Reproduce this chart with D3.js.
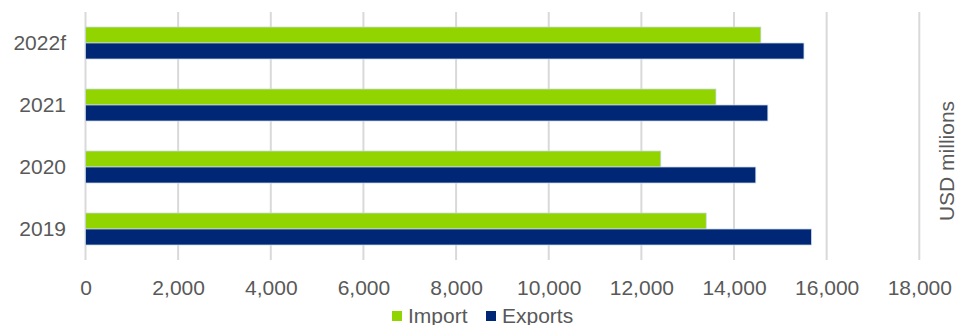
<!DOCTYPE html>
<html>
<head>
<meta charset="utf-8">
<script src="https://cdn.jsdelivr.net/npm/d3@7"></script>
<style>
  html, body { margin: 0; padding: 0; background: #fff; }
  svg { display: block; font-family: "Liberation Sans", Arial, sans-serif; }
</style>
</head>
<body>
<svg id="chart" width="955" height="325"></svg>
<script>
// Annual trade, USD millions
const years = ["2022f", "2021", "2020", "2019"];
const seriesNames = ["Import", "Exports"];
const importValues = [14580, 13610, 12420, 13400];
const exportValues = [15510, 14730, 14470, 15670];
const xTicks = [0, 2000, 4000, 6000, 8000, 10000, 12000, 14000, 16000, 18000];
const colors = ["#92d400", "#002776"];

const rows = years.map((y, i) => ({ year: y, values: [importValues[i], exportValues[i]] }));

const svg = d3.select("#chart");
const margin = { left: 85.5, right: 35.7, top: 12, bottom: 65 };
const W = 955, H = 325;

const x = d3.scaleLinear().domain([0, 18000]).range([margin.left, W - margin.right]);
const y = d3.scaleBand().domain(years).range([margin.top, H - margin.bottom]).paddingInner(30 / 62).paddingOuter(15 / 62);
const ySub = d3.scaleBand().domain(seriesNames).range([0, y.bandwidth()]);

// vertical gridlines
svg.append("g")
  .selectAll("line")
  .data(xTicks)
  .join("line")
  .attr("x1", d => x(d)).attr("x2", d => x(d))
  .attr("y1", margin.top).attr("y2", H - margin.bottom)
  .attr("stroke", "#d9d9d9")
  .attr("stroke-width", 2);

// bars
const groups = svg.append("g")
  .selectAll("g")
  .data(rows)
  .join("g")
  .attr("transform", d => `translate(0,${y(d.year)})`);

groups.selectAll("rect")
  .data(d => d.values.map((v, i) => ({ name: seriesNames[i], value: v, i })))
  .join("rect")
  .attr("x", x(0))
  .attr("y", d => ySub(d.name))
  .attr("width", d => x(d.value) - x(0))
  .attr("height", ySub.bandwidth())
  .attr("fill", d => colors[d.i])
  .attr("stroke", "#c9d6ea")
  .attr("stroke-width", 0.75);

// x axis labels
const xAxis = d3.axisBottom(x)
  .tickValues(xTicks)
  .tickFormat(d3.format(","))
  .tickSize(0)
  .tickPadding(0);
const gx = svg.append("g")
  .attr("transform", `translate(0,${H - margin.bottom + 35})`)
  .call(xAxis);
gx.select(".domain").remove();
gx.selectAll("text")
  .attr("dy", 0)
  .attr("fill", "#595959")
  .style("font-size", "21px")
  .style("font-family", "Liberation Sans, Arial, sans-serif");

// y axis labels
const yAxis = d3.axisLeft(y).tickSize(0).tickPadding(0);
const gy = svg.append("g")
  .attr("transform", `translate(66,0)`)
  .call(yAxis);
gy.select(".domain").remove();
gy.selectAll("text")
  .attr("fill", "#595959")
  .style("font-size", "21px")
  .style("font-family", "Liberation Sans, Arial, sans-serif");

// unit title on the right
svg.append("text")
  .attr("transform", `translate(954,161) rotate(-90)`)
  .attr("text-anchor", "middle")
  .attr("fill", "#595959")
  .style("font-size", "21px")
  .text("USD millions");

// legend
const legendItems = [
  { name: seriesNames[0], color: colors[0], x: 392 },
  { name: seriesNames[1], color: colors[1], x: 486 }
];
const lg = svg.append("g");
lg.selectAll("rect")
  .data(legendItems)
  .join("rect")
  .attr("x", d => d.x).attr("y", 311)
  .attr("width", 10).attr("height", 10)
  .attr("fill", d => d.color);
lg.selectAll("text")
  .data(legendItems)
  .join("text")
  .attr("x", d => d.x + 16).attr("y", 323)
  .attr("fill", "#595959")
  .style("font-size", "21px")
  .text(d => d.name);
</script>
</body>
</html>
